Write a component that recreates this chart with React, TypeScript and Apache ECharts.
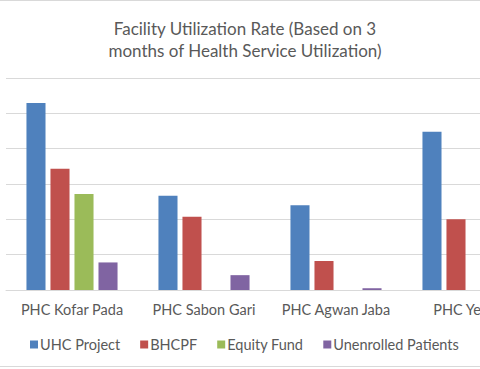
import React, { useEffect, useRef } from "react";
import * as echarts from "echarts";

const categories = ["PHC Kofar Pada", "PHC Sabon Gari", "PHC Agwan Jaba", "PHC Yelwa"];
const seriesNames = ["UHC Project", "BHCPF", "Equity Fund", "Unenrolled Patients"];
const uhcProject = [52.9, 26.7, 24.0, 44.8];
const bhcpf = [34.3, 20.7, 8.2, 20.0];
const equityFund: (number | null)[] = [27.2, null, null, null];
const unenrolled = [7.8, 4.2, 0.5, 3.0];
const colors = ["#4F81BD", "#C0504D", "#9BBB59", "#8064A2"];

export default function App() {
  const ref = useRef<HTMLDivElement>(null);
  useEffect(() => {
    if (!ref.current) return;
    const chart = echarts.init(ref.current, undefined, { renderer: "svg" });
    const values = [uhcProject, bhcpf, equityFund, unenrolled];
    chart.setOption({
      animation: false,
      backgroundColor: "#ffffff",
      color: colors,
      textStyle: { fontFamily: "Lato" },
      title: {
        text: "Facility Utilization Rate (Based on 3\nmonths of Health Service Utilization)",
        left: 240,
        textAlign: "center",
        top: 12,
        textStyle: {
          fontFamily: "Lato",
          fontSize: 17,
          fontWeight: "normal",
          color: "#595959",
          lineHeight: 22,
        },
      },
      legend: {
        top: 332,
        left: 25,
        itemWidth: 8,
        itemHeight: 8,
        itemGap: 20,
        icon: "rect",
        textStyle: { fontFamily: "Lato", fontSize: 14.5, color: "#595959", padding: [0, 0, 0, -3] },
        data: seriesNames,
      },
      grid: { left: 6, right: 0, top: 78, bottom: 79, containLabel: false },
      xAxis: {
        type: "category",
        data: categories,
        axisLine: { lineStyle: { color: "#D9D9D9" } },
        axisTick: { show: false },
        axisLabel: { fontFamily: "Lato", fontSize: 14.5, color: "#595959", margin: 12, interval: 0 },
      },
      yAxis: {
        type: "value",
        min: 0,
        max: 60,
        interval: 10,
        axisLabel: { show: false },
        axisLine: { show: false },
        axisTick: { show: false },
        splitLine: { lineStyle: { color: "#D9D9D9" } },
      },
      graphic: [
        { type: "line", shape: { x1: 0, y1: 0.5, x2: 480, y2: 0.5 }, style: { stroke: "#D9D9D9", lineWidth: 1 } },
        { type: "line", shape: { x1: 0, y1: 366.5, x2: 480, y2: 366.5 }, style: { stroke: "#D9D9D9", lineWidth: 1 } },
      ],
      series: seriesNames.map((name, i) => ({
        name,
        type: "bar",
        data: values[i],
        barGap: "26%",
        barCategoryGap: "31%",
        itemStyle: { color: colors[i] },
      })),
    });
    return () => chart.dispose();
  }, []);
  return (
    <div style={{ position: "fixed", left: 0, top: 0, width: 480, height: 369, overflow: "hidden" }}>
      <div ref={ref} style={{ width: 534, height: 369 }} />
    </div>
  );
}
